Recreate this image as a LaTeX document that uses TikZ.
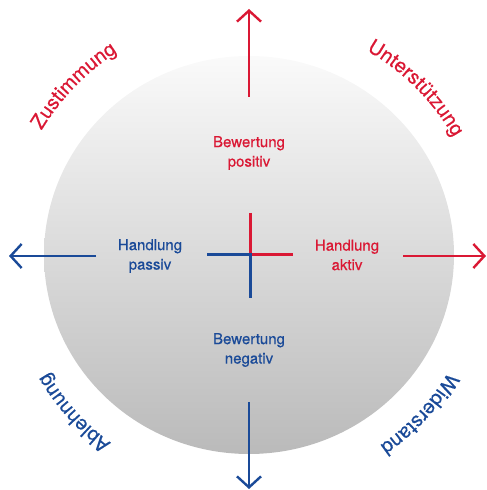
\documentclass[tikz,border=0pt]{standalone}
\usepackage{fontspec}
\setmainfont{TeX Gyre Heros}
\newfontfamily\lblfont[FakeBold=0.4]{TeX Gyre Heros}
\usetikzlibrary{arrows.meta,decorations.text}
\definecolor{lred}{RGB}{218,24,52}
\definecolor{lblue}{RGB}{26,74,152}
\definecolor{ctop}{RGB}{250,250,250}
\definecolor{cbot}{RGB}{186,186,186}
\begin{document}
\begin{tikzpicture}[x=1pt,y=1pt]
			\tikzset{
				axisarrow/.style={line width=2.4pt, -{Straight Barb[length=11pt, width=24pt]}},
				crossbar/.style={line width=3pt},
				inlabel/.style={font=\lblfont\fontsize{15}{19.5}\selectfont, align=center, inner sep=0pt},
				arclabel/.style={decorate, decoration={text along path, text align=center, text={#1}}},
			}
			\useasboundingbox (0,0) rectangle (487,490);
			\coordinate (o) at (249,235);
			\shade[top color=ctop, bottom color=cbot] (o) ellipse[x radius=205, y radius=199];
			\coordinate (up0) at (249,393);
			\coordinate (up1) at (249,481);
			\coordinate (dn0) at (249,88);
			\coordinate (dn1) at (249,1);
			\coordinate (lf0) at (96,234);
			\coordinate (lf1) at (9,234);
			\coordinate (rt0) at (403,234);
			\coordinate (rt1) at (486,234);
			\draw[axisarrow, lred] (up0) -- (up1);
			\draw[axisarrow, lred] (rt0) -- (rt1);
			\draw[axisarrow, lblue] (dn0) -- (dn1);
			\draw[axisarrow, lblue] (lf0) -- (lf1);
			\coordinate (cn) at (250,277);
			\coordinate (ce) at (293,235);
			\coordinate (cw) at (207,235);
			\coordinate (cs) at (250,192);
			\coordinate (cc) at (250,235);
			\draw[crossbar, lred] (cn) -- (cc) -- (ce);
			\draw[crossbar, lblue] (cw) -- (cc) -- (cs);
			\node[inlabel, text=lred] (bpos) at (249,337) {Bewertung\\positiv};
			\node[inlabel, text=lblue] (bneg) at (249,140) {Bewertung\\negativ};
			\node[inlabel, text=lred] (hakt) at (347,235) {Handlung\\aktiv};
			\node[inlabel, text=lblue] (hpas) at (150,234) {Handlung\\passiv};
			\path[arclabel={|\lblfont\color{lred}\fontsize{20}{24}\selectfont|Zustimmung}]
				([shift={(166:242)}]o) arc[start angle=166, end angle=106, radius=242];
			\path[arclabel={|\lblfont\color{lred}\fontsize{20}{24}\selectfont|Unterstützung}]
				([shift={(75:236)}]o) arc[start angle=75, end angle=15, radius=236];
			\path[arclabel={|\lblfont\color{lblue}\fontsize{20}{24}\selectfont|Ablehnung}]
				([shift={(252:233)}]o) arc[start angle=252, end angle=192, radius=233];
			\path[arclabel={|\lblfont\color{lblue}\fontsize{20}{24}\selectfont|Widerstand}]
				([shift={(347:231)}]o) arc[start angle=347, end angle=287, radius=231];
\end{tikzpicture}
\end{document}
